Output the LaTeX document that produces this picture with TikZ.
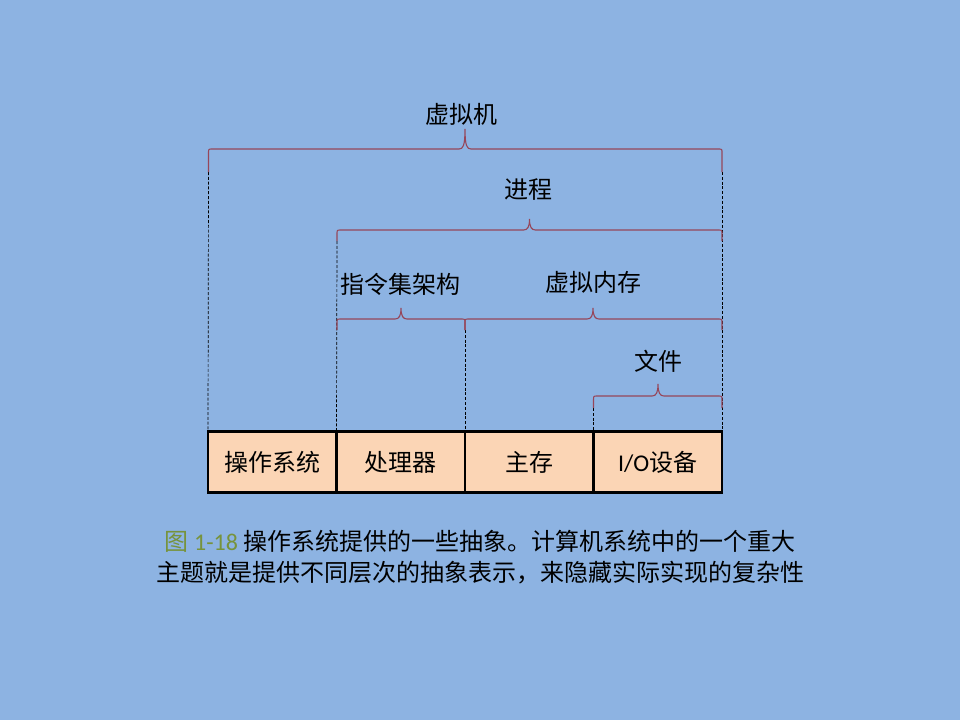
\documentclass[tikz,border=0pt]{standalone}
\usepackage{fontspec}
\setmainfont{Carlito}
\newfontfamily\cjk{Noto Sans CJK SC}
\definecolor{bgblue}{HTML}{8DB3E2}
\definecolor{peach}{HTML}{FBD5B5}
\definecolor{bracered}{RGB}{150,70,90}
\definecolor{capgreen}{HTML}{77933C}
\tikzset{
  layerbox/.style={draw=black, line width=2.7pt, fill=peach, minimum width=128.5pt,
    minimum height=61pt, inner sep=0pt, outer sep=0pt, font=\fontsize{24}{28}\selectfont\cjk},
  bracelabel/.style={inner sep=0pt, font=\fontsize{24}{28}\selectfont\cjk},
  bracestroke/.style={draw=bracered, line width=1.1pt},
  guide/.style={draw=black, line width=0.7pt, dash pattern=on 3pt off 1.8pt},
}
% horizontal curly brace: left x, right x, tip x, line y, arm length, tip height
\newcommand\hbracepath[6]{%
  \draw[bracestroke] (#1,{#4+#5}) -- (#1,{#4+4}) .. controls (#1,#4) .. ({#1+4},#4)
    -- ({#3-6},#4) .. controls ({#3-2},#4) and (#3,{#4-3}) .. (#3,{#4-#6})
    .. controls (#3,{#4-3}) and ({#3+2},#4) .. ({#3+6},#4)
    -- ({#2-4},#4) .. controls (#2,#4) .. (#2,{#4+4}) -- (#2,{#4+#5});}
\begin{document}
\begin{tikzpicture}[x=1pt,y=-1pt]
\fill[bgblue] (0,0) rectangle (960,720);
\useasboundingbox (0,0) rectangle (960,720);

% bottom row of layers
\node[layerbox] (os)   at (272.25,462) {操作系统};
\node[layerbox] (cpu)  at (400.75,462) {处理器};
\node[layerbox] (mem)  at (529.25,462) {主存};
\node[layerbox] (io)   at (657.75,462) {{\fontspec{Carlito}I/O}设备};

% brace end points
\coordinate (vmL) at (208.5,172);
\coordinate (vmR) at (722,172);
\coordinate (prL) at (337,241);
\coordinate (isaR) at (465,330);
\coordinate (fiL) at (593.5,408);

% guide lines down to the layers
\draw[guide] (vmL) -- (os.north west);
\draw[guide] (vmR) -- (io.north east);
\draw[guide] (prL) -- (cpu.north west);
\draw[guide] (isaR) -- (mem.north west);
\draw[guide] (fiL) -- (io.north west);

% braces
\hbracepath{208.5}{722}{465}{149}{23}{20}
\hbracepath{337}{722}{529.5}{230}{11}{11}
\hbracepath{337}{465}{401}{319}{11}{11}
\hbracepath{465}{722}{593}{319}{11}{11}
\hbracepath{593.5}{722}{658}{396}{12}{12}

% brace labels
\node[bracelabel] (vm)   at (461,114) {虚拟机};
\node[bracelabel] (proc) at (528,190) {进程};
\node[bracelabel] (isa)  at (400,284) {指令集架构};
\node[bracelabel] (vmem) at (593,282) {虚拟内存};
\node[bracelabel] (file) at (658,361) {文件};

% caption
\node[inner sep=0pt, align=center, font=\fontsize{24}{31}\selectfont\cjk] (cap) at (480,557.5)
  {{\color{capgreen}图 {\fontspec{Carlito}1-18}} 操作系统提供的一些抽象。计算机系统中的一个重大\\
   主题就是提供不同层次的抽象表示，来隐藏实际实现的复杂性};
\end{tikzpicture}
\end{document}
